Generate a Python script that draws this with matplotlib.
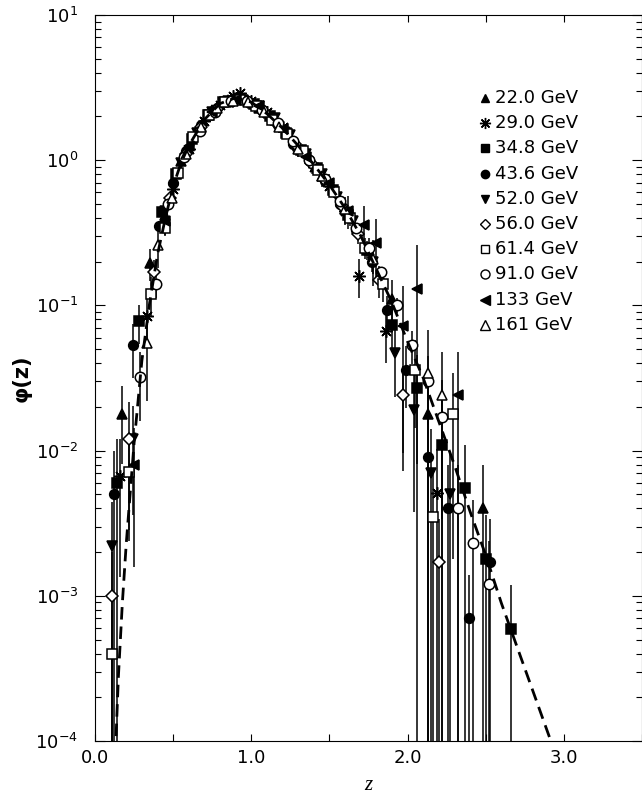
import numpy as np
import matplotlib
matplotlib.use('Agg')
import matplotlib.pyplot as plt

# energies shown in the legend
labels = ['22.0 GeV', '29.0 GeV', '34.8 GeV', '43.6 GeV', '52.0 GeV',
          '56.0 GeV', '61.4 GeV', '91.0 GeV', '133 GeV', '161 GeV']

# data points: z, phi(z), relative error (>=1 means bar goes to the bottom)
z22 = [0.17, 0.35, 0.45, 0.55, 0.65, 0.75, 0.85, 0.95, 1.05, 1.15, 1.30, 1.45, 1.60, 1.75, 1.90, 2.13, 2.48]
p22 = [0.018, 0.195, 0.42, 0.98, 1.60, 2.20, 2.60, 2.65, 2.30, 1.90, 1.25, 0.78, 0.46, 0.24, 0.11, 0.018, 0.004]
e22 = [0.55, 0.25, 0.12, 0.08, 0.06, 0.05, 0.05, 0.05, 0.05, 0.06, 0.08, 0.10, 0.14, 0.22, 0.35, 1.0, 1.0]

z29 = [0.16, 0.33, 0.50, 0.60, 0.70, 0.80, 0.88, 0.93, 1.00, 1.10, 1.20, 1.30, 1.40, 1.50, 1.60, 1.69, 1.86, 2.19]
p29 = [0.0067, 0.085, 0.63, 1.20, 1.85, 2.40, 2.75, 2.90, 2.55, 2.15, 1.70, 1.20, 0.90, 0.66, 0.45, 0.16, 0.067, 0.0051]
e29 = [0.8, 0.3, 0.06, 0.05, 0.04, 0.04, 0.04, 0.04, 0.04, 0.04, 0.05, 0.06, 0.07, 0.09, 0.12, 0.3, 0.4, 1.0]

z34 = [0.14, 0.28, 0.43, 0.52, 0.62, 0.72, 0.82, 0.92, 1.02, 1.12, 1.22, 1.32, 1.42, 1.52, 1.62, 1.74, 1.90, 2.06, 2.22, 2.37, 2.50, 2.66]
p34 = [0.0060, 0.078, 0.44, 0.80, 1.40, 2.05, 2.50, 2.65, 2.45, 2.00, 1.55, 1.18, 0.88, 0.62, 0.42, 0.24, 0.073, 0.027, 0.011, 0.0055, 0.0018, 0.00059]
e34 = [1.0, 0.3, 0.08, 0.05, 0.04, 0.03, 0.03, 0.03, 0.03, 0.03, 0.04, 0.05, 0.06, 0.08, 0.10, 0.15, 0.35, 0.7, 1.0, 1.0, 1.0, 1.0]

z43 = [0.12, 0.24, 0.41, 0.50, 0.58, 0.68, 0.78, 0.87, 0.97, 1.07, 1.17, 1.27, 1.37, 1.47, 1.57, 1.67, 1.77, 1.87, 1.99, 2.13, 2.26, 2.39, 2.53]
p43 = [0.0050, 0.053, 0.35, 0.70, 1.15, 1.75, 2.30, 2.60, 2.55, 2.20, 1.75, 1.30, 1.00, 0.72, 0.50, 0.33, 0.20, 0.093, 0.036, 0.009, 0.004, 0.0007, 0.0017]
e43 = [1.0, 0.4, 0.08, 0.05, 0.04, 0.03, 0.03, 0.03, 0.03, 0.03, 0.03, 0.04, 0.05, 0.06, 0.08, 0.10, 0.15, 0.25, 0.45, 1.0, 1.0, 1.0, 1.0]

z52 = [0.11, 0.24, 0.45, 0.55, 0.65, 0.75, 0.85, 0.95, 1.05, 1.15, 1.25, 1.35, 1.45, 1.55, 1.65, 1.78, 1.92, 2.04, 2.15, 2.27]
p52 = [0.0022, 0.012, 0.45, 0.95, 1.55, 2.15, 2.55, 2.60, 2.35, 1.95, 1.50, 1.10, 0.80, 0.56, 0.38, 0.20, 0.047, 0.019, 0.007, 0.005]
e52 = [1.0, 0.7, 0.10, 0.06, 0.05, 0.04, 0.04, 0.04, 0.04, 0.04, 0.05, 0.06, 0.07, 0.09, 0.12, 0.18, 0.5, 0.8, 1.0, 1.0]

z56 = [0.11, 0.22, 0.38, 0.48, 0.58, 0.68, 0.78, 0.88, 0.98, 1.08, 1.18, 1.28, 1.38, 1.48, 1.58, 1.68, 1.82, 1.97, 2.20]
p56 = [0.0010, 0.012, 0.17, 0.55, 1.10, 1.70, 2.25, 2.55, 2.50, 2.15, 1.72, 1.30, 0.95, 0.72, 0.48, 0.31, 0.15, 0.024, 0.0017]
e56 = [1.0, 0.8, 0.2, 0.08, 0.05, 0.04, 0.04, 0.04, 0.04, 0.04, 0.05, 0.06, 0.07, 0.08, 0.10, 0.14, 0.25, 0.6, 1.0]

z61 = [0.11, 0.22, 0.36, 0.45, 0.53, 0.63, 0.73, 0.83, 0.93, 1.03, 1.13, 1.23, 1.33, 1.43, 1.53, 1.63, 1.73, 1.84, 2.05, 2.16, 2.29]
p61 = [0.0004, 0.0071, 0.12, 0.34, 0.82, 1.45, 2.05, 2.50, 2.60, 2.35, 1.90, 1.52, 1.15, 0.86, 0.60, 0.40, 0.25, 0.14, 0.036, 0.0035, 0.018]
e61 = [1.0, 0.6, 0.3, 0.12, 0.06, 0.05, 0.04, 0.04, 0.04, 0.04, 0.04, 0.05, 0.06, 0.07, 0.09, 0.12, 0.16, 0.25, 0.6, 1.0, 0.9]

z91 = [0.29, 0.39, 0.47, 0.57, 0.67, 0.77, 0.87, 0.97, 1.07, 1.17, 1.27, 1.37, 1.47, 1.57, 1.67, 1.75, 1.83, 1.93, 2.03, 2.13, 2.22, 2.32, 2.42, 2.52]
p91 = [0.032, 0.14, 0.50, 1.05, 1.60, 2.15, 2.55, 2.55, 2.20, 1.80, 1.35, 1.00, 0.74, 0.52, 0.34, 0.25, 0.17, 0.10, 0.053, 0.030, 0.017, 0.004, 0.0023, 0.0012]
e91 = [0.5, 0.2, 0.04, 0.02, 0.02, 0.02, 0.02, 0.02, 0.02, 0.02, 0.02, 0.02, 0.03, 0.03, 0.04, 0.05, 0.07, 0.12, 0.25, 0.5, 0.8, 1.0, 1.0, 1.0]

z133 = [0.25, 0.45, 0.60, 0.75, 0.90, 1.05, 1.20, 1.35, 1.50, 1.62, 1.72, 1.80, 1.97, 2.06, 2.32]
p133 = [0.0079, 0.38, 1.25, 2.15, 2.60, 2.35, 1.65, 1.05, 0.70, 0.45, 0.36, 0.27, 0.072, 0.13, 0.024]
e133 = [0.8, 0.2, 0.10, 0.08, 0.07, 0.07, 0.08, 0.10, 0.14, 0.25, 0.35, 0.45, 0.9, 1.0, 1.0]

z161 = [0.33, 0.40, 0.49, 0.58, 0.68, 0.78, 0.88, 0.98, 1.08, 1.18, 1.30, 1.45, 1.60, 1.78, 2.13, 2.22]
p161 = [0.055, 0.26, 0.55, 1.10, 1.70, 2.30, 2.55, 2.50, 2.15, 1.70, 1.20, 0.78, 0.46, 0.21, 0.034, 0.024]
e161 = [0.6, 0.3, 0.15, 0.10, 0.08, 0.07, 0.07, 0.07, 0.08, 0.09, 0.12, 0.16, 0.22, 0.35, 1.0, 1.0]

# dashed fit curve (log10 phi)
z_fit = [0.13, 0.15, 0.175, 0.20, 0.25, 0.30, 0.35, 0.40, 0.45, 0.50, 0.55, 0.60, 0.70, 0.80, 0.90,
         1.00, 1.10, 1.20, 1.30, 1.40, 1.50, 1.60, 1.70, 1.80, 1.90, 2.00, 2.10, 2.20, 2.30,
         2.40, 2.50, 2.60, 2.70, 2.80, 2.90, 2.95]
lg_fit = [-4.1, -3.55, -3.05, -2.64, -1.95, -1.38, -0.98, -0.65, -0.40, -0.18, -0.02, 0.10, 0.28, 0.39, 0.43,
          0.40, 0.32, 0.22, 0.10, -0.03, -0.17, -0.33, -0.52, -0.75, -0.98, -1.25, -1.50, -1.80, -2.10,
          -2.42, -2.72, -3.05, -3.35, -3.65, -3.95, -4.1]

all_z = [z22, z29, z34, z43, z52, z56, z61, z91, z133, z161]
all_p = [p22, p29, p34, p43, p52, p56, p61, p91, p133, p161]
all_e = [e22, e29, e34, e43, e52, e56, e61, e91, e133, e161]
markers = ['^', (8, 2, 0), 's', 'o', 'v', 'D', 's', 'o', '<', '^']
filled = [True, True, True, True, True, False, False, False, True, False]
sizes = [7, 9, 6.5, 7, 7, 6, 7, 7.5, 7.5, 7.5]

fig = plt.figure(figsize=(6.42, 7.98), dpi=100)
ax = fig.add_axes([95 / 642, 57 / 798, 547 / 642, 726 / 798])

for i in range(len(labels)):
    z = np.array(all_z[i])
    p = np.array(all_p[i])
    e = np.array(all_e[i])
    lower = np.where(e >= 1.0, p - 1e-6, p * e)
    upper = p * e
    mfc = 'black' if filled[i] else 'white'
    ax.errorbar(z, p, yerr=[lower, upper], fmt='none', ecolor='black',
                elinewidth=1.1, capsize=0, zorder=2)
    ax.plot(z, p, linestyle='none', marker=markers[i], ms=sizes[i], mfc=mfc,
            mec='black', mew=1.1, zorder=3)

ax.plot(z_fit, 10 ** np.array(lg_fit), color='black', linestyle=(0, (4.5, 2.5)),
        linewidth=2.0, zorder=4)

ax.set_yscale('log')
ax.set_xlim(0.0, 3.5)
ax.set_ylim(1e-4, 10)
ax.set_xticks([0.0, 1.0, 2.0, 3.0])
ax.set_xticklabels(['0.0', '1.0', '2.0', '3.0'])
ax.set_xticks([0.5, 1.5, 2.5, 3.5], minor=True)
ax.tick_params(which='both', direction='in', top=True, right=True,
               labelsize=13, width=0.8)
ax.tick_params(axis='x', which='both', length=5, pad=6)
ax.tick_params(axis='y', which='major', length=7, pad=12)
ax.tick_params(axis='y', which='minor', length=4.5)
for sp in ax.spines.values():
    sp.set_linewidth(0.8)

ax.set_xlabel('z', fontsize=15, family='Liberation Serif', style='italic', labelpad=6)
ax.set_ylabel('φ(z)', fontsize=15, fontweight='bold', labelpad=3)

# legend drawn by hand: marker column and text column
for i in range(len(labels)):
    ypix = 98 + 25.2 * i
    yfrac = (741 - ypix) / 726
    mfc = 'black' if filled[i] else 'white'
    ax.plot([0.713], [yfrac], transform=ax.transAxes, marker=markers[i],
            ms=sizes[i] - 1, mfc=mfc, mec='black', mew=1.0, linestyle='none', clip_on=False)
    ax.text(0.732, yfrac, labels[i], transform=ax.transAxes, fontsize=13,
            va='center', ha='left')

plt.savefig('out.png', dpi=100)
plt.close()
